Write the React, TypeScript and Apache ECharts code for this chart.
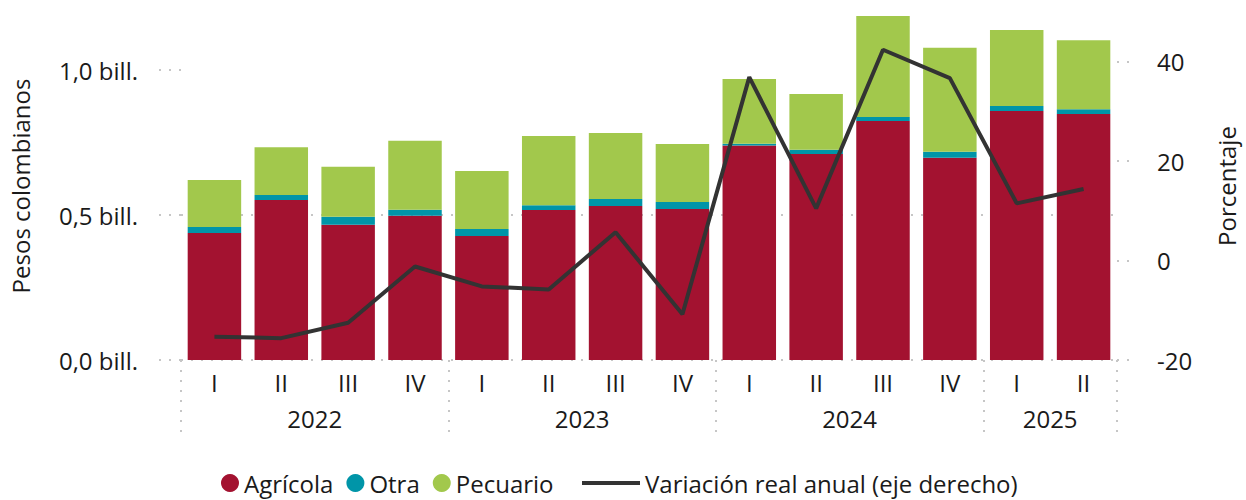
import React, { useEffect, useRef } from "react";
import * as echarts from "echarts";

const quarters = ["I", "II", "III", "IV", "I", "II", "III", "IV", "I", "II", "III", "IV", "I", "II"];
const years = ["2022", "2023", "2024", "2025"];
const quartersPerYear = [4, 4, 4, 2];

const agricola = [0.438, 0.552, 0.466, 0.497, 0.428, 0.517, 0.531, 0.521, 0.740, 0.710, 0.824, 0.697, 0.859, 0.848];
const otra = [0.021, 0.017, 0.028, 0.021, 0.024, 0.017, 0.024, 0.024, 0.006, 0.015, 0.014, 0.021, 0.017, 0.017];
const pecuario = [0.162, 0.165, 0.172, 0.238, 0.200, 0.238, 0.228, 0.200, 0.223, 0.192, 0.348, 0.359, 0.262, 0.238];
const variacion = [-15.3, -15.6, -12.5, -1.2, -5.2, -5.8, 5.7, -10.8, 36.9, 10.5, 42.4, 36.7, 11.5, 14.4];

const leftTicks = [0, 0.5, 1.0];
const rightTicks = [-20, 0, 20, 40];

const FONT = "Open Sans";
const TXT = "#1a1a1a";
const DOT = { color: "#c6c6c6", width: 2, type: [2, 8] as any };

export default function App() {
  const ref = useRef<HTMLDivElement>(null);
  useEffect(() => {
    document.body.style.margin = "0";
    if (!ref.current) return;
    const chart = echarts.init(ref.current, null, { renderer: "svg" });

    const bounds: number[] = [0];
    const centers: number[] = [];
    quartersPerYear.forEach((n) => {
      const s = bounds[bounds.length - 1];
      centers.push(s + n / 2);
      bounds.push(s + n);
    });
    const total = bounds[bounds.length - 1];

    chart.setOption({
      animation: false,
      textStyle: { fontFamily: FONT },
      grid: { left: 180, right: 119, top: 12, bottom: 140, containLabel: false },
      legend: [
        {
          data: ["Agrícola", "Otra", "Pecuario"],
          left: 221,
          top: 471,
          icon: "circle",
          itemWidth: 18,
          itemHeight: 18,
          itemGap: 13,
          padding: 0,
          textStyle: { fontFamily: FONT, fontSize: 24, lineHeight: 24, color: TXT },
        },
        {
          data: [{ name: "Variación real anual (eje derecho)", icon: "rect" }],
          left: 582,
          top: 471,
          itemWidth: 58,
          itemHeight: 4,
          padding: 0,
          textStyle: { fontFamily: FONT, fontSize: 24, lineHeight: 24, color: TXT },
        },
      ],
      xAxis: [
        {
          type: "category",
          data: quarters,
          position: "bottom",
          axisLine: { show: false, onZero: false },
          axisTick: { show: false },
          splitLine: { show: false },
          axisLabel: { fontFamily: FONT, fontSize: 24, color: TXT, margin: 10 },
        },
        {
          type: "value",
          min: 0,
          max: total,
          interval: 1,
          position: "bottom",
          axisLine: { show: false, onZero: false },
          splitLine: { show: false },
          axisTick: { show: true, inside: false, length: 80, lineStyle: DOT, customValues: bounds },
          axisLabel: {
            show: true,
            customValues: centers,
            margin: 46,
            fontFamily: FONT,
            fontSize: 24,
            color: TXT,
            formatter: (v: number) => {
              const i = centers.indexOf(v);
              return i >= 0 ? years[i] : "";
            },
          },
        },
      ],
      yAxis: [
        {
          type: "value",
          min: 0,
          max: 1.2,
          interval: 0.5,
          position: "left",
          name: "Pesos colombianos",
          nameLocation: "middle",
          nameGap: 149,
          nameTextStyle: { fontFamily: FONT, fontSize: 24, color: TXT },
          axisLine: { show: false, onZero: false },
          axisTick: { show: true, inside: false, length: 23, lineStyle: DOT, customValues: leftTicks },
          splitLine: { show: true, lineStyle: DOT, showMaxLine: false, showMinLine: true },
          axisLabel: {
            customValues: leftTicks,
            margin: 43,
            fontFamily: FONT,
            fontSize: 24,
            color: TXT,
            formatter: (v: number) => v.toFixed(1).replace(".", ",") + " bill.",
          },
        },
        {
          type: "value",
          min: -20,
          max: 50,
          interval: 20,
          position: "right",
          name: "Porcentaje",
          nameLocation: "middle",
          nameRotate: 90,
          nameGap: 97,
          nameTextStyle: { fontFamily: FONT, fontSize: 24, color: TXT },
          axisLine: { show: false, onZero: false },
          axisTick: { show: true, inside: false, length: 20, lineStyle: DOT, customValues: rightTicks },
          splitLine: { show: false },
          axisLabel: {
            customValues: rightTicks,
            margin: 40,
            fontFamily: FONT,
            fontSize: 24,
            color: TXT,
          },
        },
      ],
      series: [
        {
          name: "Agrícola",
          type: "bar",
          stack: "total",
          data: agricola,
          barCategoryGap: "20%",
          itemStyle: { color: "#A31230" },
        },
        {
          name: "Otra",
          type: "bar",
          stack: "total",
          data: otra,
          barCategoryGap: "20%",
          itemStyle: { color: "#0095A8" },
        },
        {
          name: "Pecuario",
          type: "bar",
          stack: "total",
          data: pecuario,
          barCategoryGap: "20%",
          itemStyle: { color: "#A2C84C" },
        },
        {
          name: "Variación real anual (eje derecho)",
          type: "line",
          yAxisIndex: 1,
          data: variacion,
          symbol: "none",
          color: "#333333",
          lineStyle: { color: "#333333", width: 4 },
          itemStyle: { color: "#333333" },
          z: 5,
        },
      ],
    });
    return () => chart.dispose();
  }, []);
  return <div ref={ref} style={{ width: 1246, height: 500 }} />;
}
